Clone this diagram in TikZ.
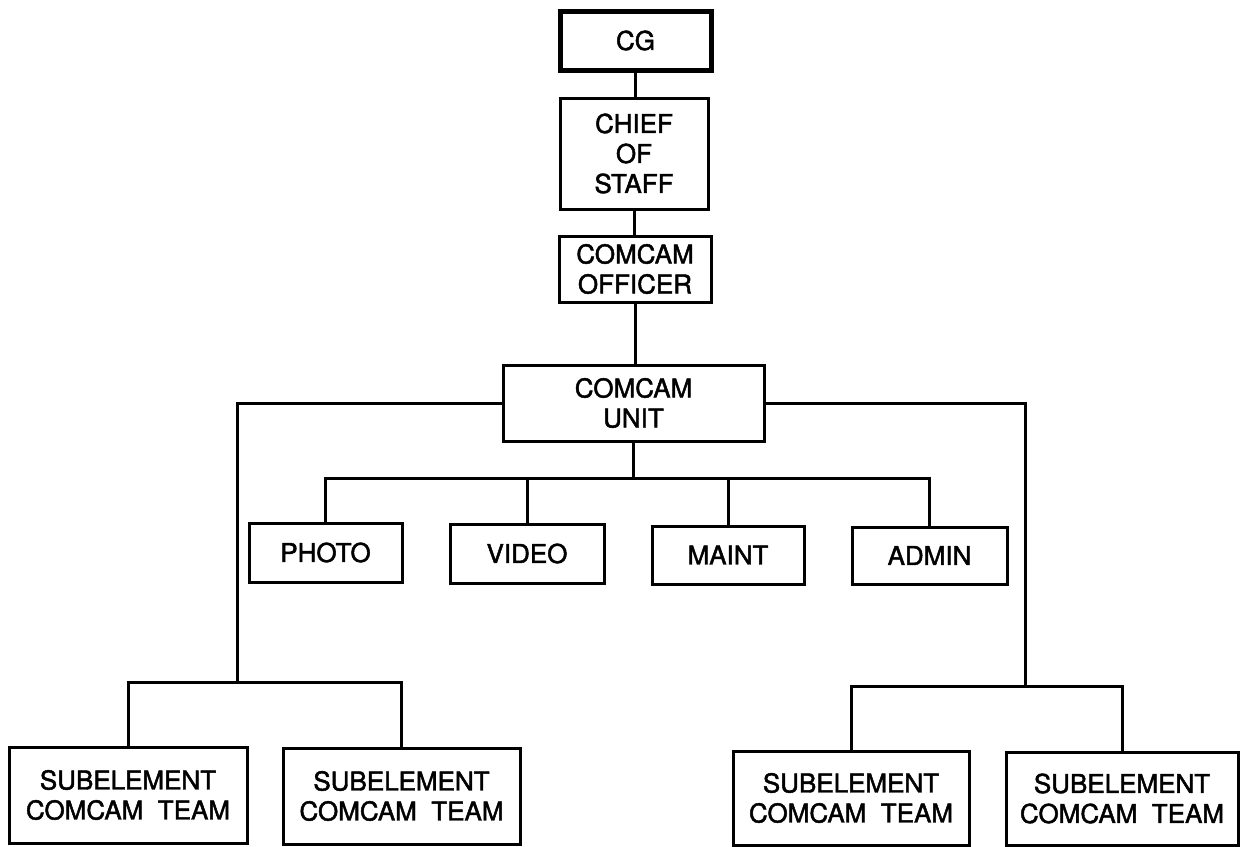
\documentclass[tikz,border=0pt]{standalone}
\usepackage{fontspec}
\setmainfont{TeX Gyre Heros}
\newfontfamily\labelfont{TeX Gyre Heros}[FakeBold=1.8]
\begin{document}
\begin{tikzpicture}[x=1pt,y=-1pt,
  line width=3pt,
  box/.style={draw,rectangle,inner sep=0pt,align=center,
    font=\labelfont\fontsize{26}{30}\selectfont},
  link/.style={draw,line width=3pt}]
\useasboundingbox (0,0) rectangle (1241,846);

% command chain
\node[box,line width=5pt,minimum width=151,minimum height=59] (cg) at (635.5,40.5) {CG};
\node[box,minimum width=148,minimum height=111] (cos) at (634,153.5) {CHIEF\\OF\\STAFF};
\node[box,minimum width=152,minimum height=66] (off) at (635,269) {COMCAM\\OFFICER};
\node[box,minimum width=261,minimum height=76] (unit) at (633.5,403) {COMCAM\\UNIT};

% sections of the unit
\node[box,minimum width=153,minimum height=59] (photo) at (325.5,552.5) {PHOTO};
\node[box,minimum width=154,minimum height=59] (video) at (527,553.5) {VIDEO};
\node[box,minimum width=152,minimum height=58] (maint) at (728,555) {MAINT};
\node[box,minimum width=155,minimum height=57] (admin) at (929.5,555.5) {ADMIN};

% subelement teams
\node[box,minimum width=238,minimum height=96] (t1) at (128,795) {SUBELEMENT\\COMCAM\ \ TEAM};
\node[box,minimum width=237,minimum height=96] (t2) at (401.5,796) {SUBELEMENT\\COMCAM\ \ TEAM};
\node[box,minimum width=236,minimum height=94] (t3) at (851,798) {SUBELEMENT\\COMCAM\ \ TEAM};
\node[box,minimum width=232,minimum height=93] (t4) at (1122,798.5) {SUBELEMENT\\COMCAM\ \ TEAM};

% branch points
\coordinate (sec) at (633.5,478);
\coordinate (lb) at (237,682);
\coordinate (rb) at (1025,686);

% connectors
\draw[link] (cg.south) -- (cg.south |- cos.north);
\draw[link] (cos.south) -- (cos.south |- off.north);
\draw[link] (off.south) -- (off.south |- unit.north);

\draw[link] (unit.south) -- (sec);
\draw[link] (photo.north) |- (admin.north |- sec) -- (admin.north);
\draw[link] (video.north) -- (video.north |- sec);
\draw[link] (maint.north) -- (maint.north |- sec);

\draw[link] (unit.west) -| (lb);
\draw[link] (t1.north) |- (t2.north |- lb) -- (t2.north);
\draw[link] (unit.east) -| (rb);
\draw[link] (t3.north) |- (t4.north |- rb) -- (t4.north);
\end{tikzpicture}
\end{document}
